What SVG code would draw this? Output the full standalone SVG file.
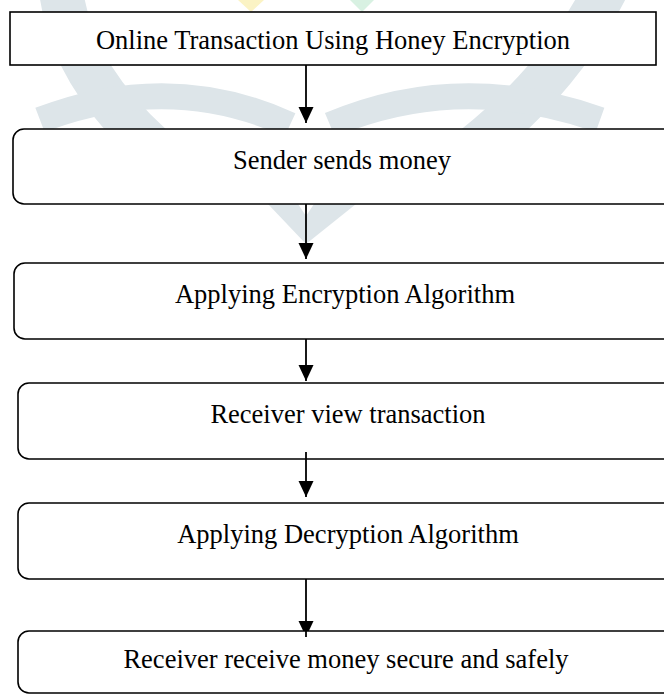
<svg xmlns="http://www.w3.org/2000/svg" width="664" height="698" viewBox="0 0 664 698">
<style>
.box{fill:#ffffff;stroke:#000000;stroke-width:1.6}
.lbl{font-family:"Liberation Serif","Times New Roman",serif;font-size:26.5px;fill:#000000;text-anchor:middle}
.wm{fill:none;stroke:#dde5e9;stroke-linecap:butt}
.edge{stroke:#000000;stroke-width:1.8;fill:none;marker-end:url(#arr)}
</style>
<defs>
<marker id="arr" markerUnits="userSpaceOnUse" markerWidth="16" markerHeight="16" refX="16" refY="7.5" orient="auto">
<path d="M0,0 L16,7.5 L0,15 z" fill="#000000"/>
</marker>
<clipPath id="top"><rect x="0" y="0" width="664" height="130"/></clipPath>
</defs>
<rect width="664" height="698" fill="#ffffff"/>
<g id="watermark">
<g clip-path="url(#top)">
<path class="wm" d="M 60 -30 Q 60 120 300 245" stroke-width="44"/>
<path class="wm" d="M 615 -30 Q 540 140 312 245" stroke-width="44"/>
<path class="wm" d="M 40 120 Q 170 70 290 125" stroke-width="26"/>
<path class="wm" d="M 600 120 Q 460 70 330 125" stroke-width="26"/>
</g>
<polygon points="268,204 298,204 306,216 314,204 356,204 306,244" fill="#dde5e9"/>
<polygon points="238,0 264,0 251,12" fill="#fbf3c4"/>
<polygon points="350,0 374,0 362,12" fill="#d8f1e2"/>
</g>
<g id="connectors">
<line class="edge" x1="306" y1="65" x2="306" y2="123"/>
<line class="edge" x1="306" y1="204" x2="306" y2="259"/>
<line class="edge" x1="306" y1="339" x2="306" y2="381"/>
<line class="edge" x1="306" y1="452" x2="306" y2="497"/>
<line class="edge" x1="306" y1="579" x2="306" y2="637"/>
</g>
<g id="n1"><rect class="box" x="10" y="12" width="646" height="53"/><text class="lbl" x="333" y="49">Online Transaction Using Honey Encryption</text></g>
<g id="n2"><rect class="box" x="13" y="129" width="663" height="75" rx="11"/><text class="lbl" x="342" y="169">Sender sends money</text></g>
<g id="n3"><rect class="box" x="14" y="263" width="662" height="76" rx="11"/><text class="lbl" x="345" y="303">Applying Encryption Algorithm</text></g>
<g id="n4"><rect class="box" x="18" y="383" width="658" height="76" rx="11"/><text class="lbl" x="348" y="423">Receiver view transaction</text></g>
<g id="n5"><rect class="box" x="18" y="503" width="658" height="76" rx="11"/><text class="lbl" x="348" y="543">Applying Decryption Algorithm</text></g>
<g id="n6"><rect class="box" x="18" y="631" width="658" height="62" rx="11"/><text class="lbl" x="346" y="668">Receiver receive money secure and safely</text></g>
<line x1="306" y1="452" x2="306" y2="459" stroke="#000" stroke-width="1.8"/>
<line x1="306" y1="631" x2="306" y2="637" stroke="#000" stroke-width="1.8"/>
</svg>
